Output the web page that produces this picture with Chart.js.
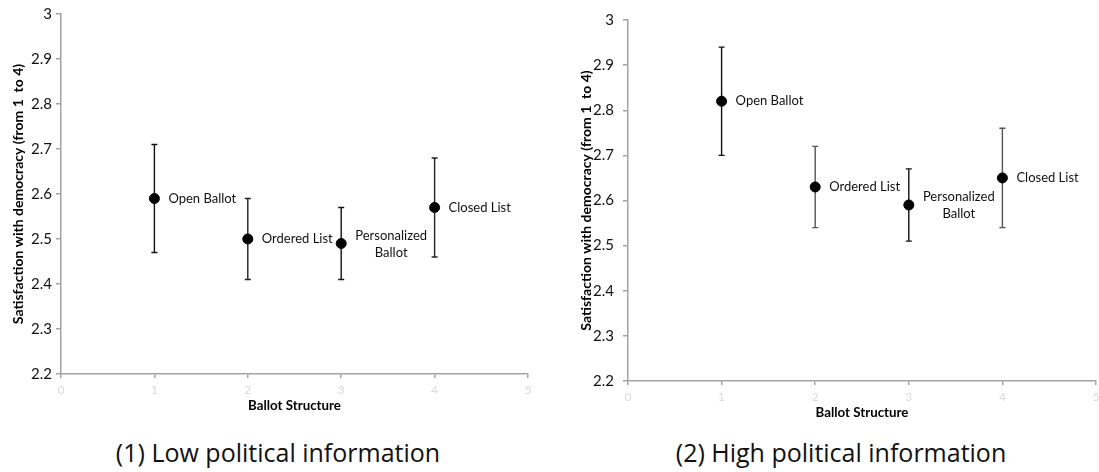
<!DOCTYPE html>
<html>
<head>
<meta charset="utf-8">
<title>Ballot structure and satisfaction with democracy</title>
<script src="https://cdn.jsdelivr.net/npm/chart.js@4.4.1/dist/chart.umd.min.js"></script>
<style>
    body { margin: 0; background: #fff; width: 1099px; height: 472px; position: relative; overflow: hidden; }
    .panel { position: absolute; top: 0; }
    .caption { position: absolute; top: 435px; font-family: "Open Sans", sans-serif; font-size: 25px; line-height: 34px; color: #111; text-align: center; }
</style>
</head>
<body>
<div class="panel" style="left:0; width:545px; height:420px;"><canvas id="lowChart"></canvas></div>
<div class="panel" style="left:567px; width:540px; height:427px;"><canvas id="highChart"></canvas></div>
<div class="caption" style="left:0; width:556px;">(1) Low political information</div>
<div class="caption" style="left:566px; width:550px;">(2) High political information</div>

<script>
// Data
const ballotTypes = ['Open Ballot', 'Ordered List', ['Personalized', 'Ballot'], 'Closed List'];
const ballotPositions = [1, 2, 3, 4];

const lowMeans = [2.59, 2.50, 2.49, 2.57];
const lowLower = [2.47, 2.41, 2.41, 2.46];
const lowUpper = [2.71, 2.59, 2.57, 2.68];

const highMeans = [2.82, 2.63, 2.59, 2.65];
const highLower = [2.70, 2.54, 2.51, 2.54];
const highUpper = [2.94, 2.72, 2.67, 2.76];

const xTickValues = [0, 1, 2, 3, 4, 5];
const xTickLabels = ['0', '1', '2', '3', '4', '5'];
const yTickValues = [2.2, 2.3, 2.4, 2.5, 2.6, 2.7, 2.8, 2.9, 3];
const yTickLabels = ['2.2', '2.3', '2.4', '2.5', '2.6', '2.7', '2.8', '2.9', '3'];

const AXIS_GREY = '#a3a3a3';
const FONT = 'Lato, "Open Sans", sans-serif';

// error bars under the points, text labels next to them
const errorBarPlugin = {
    id: 'errorBars',
    beforeDatasetsDraw(chart) {
        const ctx = chart.ctx;
        const xs = chart.scales.x, ys = chart.scales.y;
        chart.data.datasets.forEach(ds => {
            ds.data.forEach((p, i) => {
                const px = xs.getPixelForValue(p.x);
                const top = ys.getPixelForValue(p.hi);
                const bot = ys.getPixelForValue(p.lo);
                ctx.save();
                ctx.strokeStyle = Array.isArray(ds.barColors) ? ds.barColors[i] : '#222';
                ctx.lineWidth = 1.4;
                ctx.beginPath();
                ctx.moveTo(px, top); ctx.lineTo(px, bot);
                ctx.moveTo(px - 3, top); ctx.lineTo(px + 3, top);
                ctx.moveTo(px - 3, bot); ctx.lineTo(px + 3, bot);
                ctx.stroke();
                ctx.restore();
            });
        });
    },
    afterDatasetsDraw(chart) {
        const ctx = chart.ctx;
        const xs = chart.scales.x, ys = chart.scales.y;
        ctx.save();
        ctx.fillStyle = '#111';
        ctx.font = '13px ' + FONT;
        ctx.textBaseline = 'middle';
        chart.data.datasets.forEach(ds => {
            ds.data.forEach(p => {
                const px = xs.getPixelForValue(p.x);
                const py = ys.getPixelForValue(p.y);
                if (Array.isArray(p.label)) {
                    ctx.textAlign = 'center';
                    ctx.fillText(p.label[0], px + 50, py - 8);
                    ctx.fillText(p.label[1], px + 50, py + 9);
                } else {
                    ctx.textAlign = 'left';
                    ctx.fillText(p.label, px + 14, py);
                }
            });
        });
        ctx.restore();
    }
};

function makeChart(canvasId, means, lower, upper, opts) {
    const points = ballotPositions.map((x, i) => ({
        x: x, y: means[i], lo: lower[i], hi: upper[i], label: ballotTypes[i]
    }));

    return new Chart(document.getElementById(canvasId), {
        type: 'scatter',
        data: {
            datasets: [{
                data: points,
                backgroundColor: '#000',
                borderColor: '#000',
                pointRadius: 5,
                pointHoverRadius: 5,
                barColors: opts.barColors
            }]
        },
        options: {
            responsive: true,
            maintainAspectRatio: false,
            animation: false,
            layout: { padding: { top: opts.padTop, right: opts.padRight, left: 0, bottom: 0 } },
            plugins: { legend: { display: false }, tooltip: { enabled: false } },
            scales: {
                x: {
                    type: 'linear',
                    min: 0, max: 5,
                    afterBuildTicks: s => { s.ticks = xTickValues.map(v => ({ value: v })); },
                    afterFit: s => { s.height = 46; },
                    ticks: {
                        autoSkip: false, maxRotation: 0, padding: 5,
                        color: '#dadada',
                        font: { family: FONT, size: 12 },
                        callback: (v, i) => xTickLabels[i]
                    },
                    grid: { drawOnChartArea: false, drawTicks: true, tickLength: 4, color: AXIS_GREY, lineWidth: 1.5 },
                    border: { color: AXIS_GREY, width: 1.5 },
                    title: {
                        display: true, text: 'Ballot Structure', color: '#000',
                        font: { family: FONT, size: 13.3, weight: 'bold' },
                        padding: { top: 0, bottom: 6 }
                    }
                },
                y: {
                    min: 2.2, max: 3,
                    afterBuildTicks: s => { s.ticks = yTickValues.map(v => ({ value: v })); },
                    afterFit: s => { s.width = 61; },
                    ticks: {
                        padding: opts.yTickPad,
                        color: '#111',
                        font: { family: FONT, size: 15 },
                        callback: (v, i) => yTickLabels[i]
                    },
                    grid: { drawOnChartArea: false, drawTicks: true, tickLength: 5, color: AXIS_GREY, lineWidth: 1.5 },
                    border: { color: AXIS_GREY, width: 1.5 },
                    title: {
                        display: true, text: 'Satisfaction with democracy (from 1  to 4)', color: '#000',
                        font: { family: FONT, size: 14, weight: 'bold' },
                        padding: { top: opts.titlePad, bottom: 0 }
                    }
                }
            }
        },
        plugins: [errorBarPlugin]
    });
}

makeChart('lowChart', lowMeans, lowLower, lowUpper,
    { padTop: 14, padRight: 17, yTickPad: 4, titlePad: 9.6, barColors: ['#111', '#222', '#111', '#222'] });
makeChart('highChart', highMeans, highLower, highUpper,
    { padTop: 20, padRight: 11, yTickPad: 9, titlePad: 10.6, barColors: ['#111', '#555', '#111', '#555'] });
</script>
</body>
</html>
